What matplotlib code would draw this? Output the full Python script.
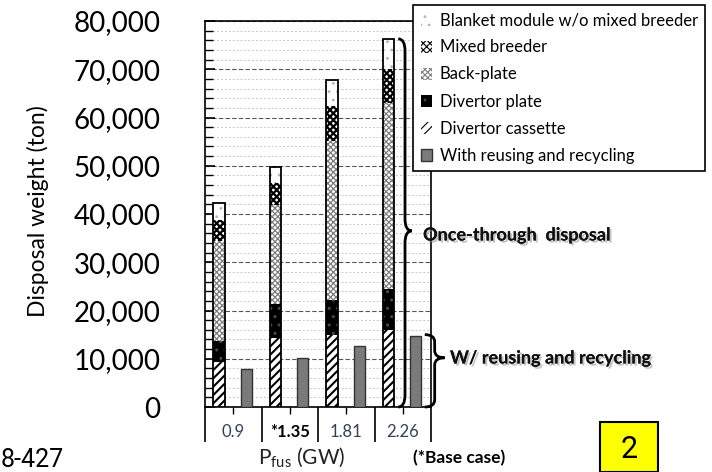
import numpy as np
import matplotlib
matplotlib.use("Agg")
import matplotlib.pyplot as plt
from matplotlib.path import Path
from matplotlib.patches import PathPatch, Rectangle
from matplotlib.ticker import MultipleLocator
from matplotlib import patheffects as pe

plt.rcParams['font.family'] = ['Lato', 'DejaVu Sans']

# data (ton)
categories = ["0.9", "*1.35", "1.81", "2.26"]
divertor_cassette = [9400, 14300, 14900, 16000]
divertor_plate = [4300, 7100, 7200, 8400]
back_plate = [20800, 20500, 33100, 38600]
mixed_breeder = [4300, 4500, 7100, 7000]
blanket = [3400, 3400, 5500, 6300]
recycled = [7900, 10200, 12700, 14700]
yticks = np.arange(0, 80001, 10000)

W, H = 712, 472
fig = plt.figure(figsize=(W / 100, H / 100), dpi=100)
ax = fig.add_axes([205 / W, 1 - 407 / H, 226 / W, 386 / H])

x = np.arange(len(categories))
xs = x + 0.25
xg = x + 0.73
bw = 0.2

# stacked bars: (values, label, face, hatch colour, hatch, hatch lw)
layers = [
    (divertor_cassette, "Divertor cassette", "white", "black", "////", 1.5),
    (divertor_plate, "Divertor plate", "black", "#4a4a4a", "..", 1.0),
    (back_plate, "Back-plate", "white", "#7c7c7c", "xxxxxx", 0.9),
    (mixed_breeder, "Mixed breeder", "white", "black", "xxxxx", 1.6),
    (blanket, "Blanket module w/o mixed breeder", "white", "#b5b5b5", "..", 0.8),
]
bottom = np.zeros(len(categories))
handles = {}
for vals, lab, face, hc, hatch, hlw in layers:
    plt.rcParams['hatch.linewidth'] = hlw
    b = ax.bar(xs, vals, bw, bottom=bottom, color=face, edgecolor=hc,
               hatch=hatch, linewidth=0, label=lab, zorder=3)
    handles[lab] = b
    bottom = bottom + np.array(vals)
totals = bottom
ax.bar(xs, totals, bw, fill=False, edgecolor="black", linewidth=1.3, zorder=4)
g = ax.bar(xg, recycled, bw, color="#7a7a7a", edgecolor="#333333",
           linewidth=1.0, zorder=3, label="With reusing and recycling")
handles["With reusing and recycling"] = g

# axes
ax.set_xlim(0, 4)
ax.set_ylim(0, 80000)
ax.set_yticks(yticks)
ax.set_yticklabels([f"{v:,}" for v in yticks])
ax.yaxis.set_minor_locator(MultipleLocator(2000))
ax.tick_params(axis="y", which="major", direction="in", length=7, width=1.2,
               labelsize=20, pad=32)
ax.tick_params(axis="y", which="minor", direction="in", length=6, width=1)
ax.yaxis.grid(True, which="major", ls=(0, (4, 2)), color="#555555", lw=0.8)
ax.yaxis.grid(True, which="minor", ls=(0, (2, 2)), color="#c8c8c8", lw=0.7)
ax.set_axisbelow(True)

ax.set_xticks(np.arange(5))
ax.set_xticklabels([])
ax.set_xticks(x + 0.5, minor=True)
ax.set_xticklabels(categories, minor=True)
ax.tick_params(axis="x", which="major", direction="out", length=25, width=1.2)
ax.tick_params(axis="x", which="minor", direction="out", length=5, width=1,
               labelsize=12, pad=7, labelcolor="#34405a")
for lbl in ax.get_xticklabels(minor=True):
    if lbl.get_text().startswith("*"):
        lbl.set_fontweight("bold")
        lbl.set_color("black")
for s in ax.spines.values():
    s.set_linewidth(1.2)

fig.text(38 / W, 1 - 211 / H, "Disposal weight (ton)", rotation=90,
         ha="center", va="center", fontsize=16.5)


# curly braces
def brace(x0, w, ybot, ytop, ytip, r):
    xm = x0 + w / 2
    verts = [(x0, ytop), (xm, ytop), (xm, ytop - r),
             (xm, ytip + r), (xm, ytip), (x0 + w, ytip),
             (xm, ytip), (xm, ytip - r),
             (xm, ybot + r), (xm, ybot), (x0, ybot)]
    codes = [Path.MOVETO, Path.CURVE3, Path.CURVE3,
             Path.LINETO, Path.CURVE3, Path.CURVE3,
             Path.CURVE3, Path.CURVE3,
             Path.LINETO, Path.CURVE3, Path.CURVE3]
    ax.add_patch(PathPatch(Path(verts, codes), fill=False, lw=2,
                           edgecolor="black", clip_on=False, zorder=5))


brace(3.42, 0.24, 0, totals[-1], 36500, 2500)
brace(3.89, 0.35, 0, recycled[-1] + 300, 10200, 1500)

shadow = [pe.withSimplePatchShadow(offset=(1.5, -1.5), shadow_rgbFace="#888888", alpha=0.5),
          pe.Normal()]
fig.text(423 / W, 1 - 235 / H, "Once-through  disposal", ha="left", va="center",
         fontsize=13, fontweight="bold", color="#111111", path_effects=shadow)
fig.text(450 / W, 1 - 358 / H, "W/ reusing and recycling", ha="left", va="center",
         fontsize=13, fontweight="bold", color="#111111", path_effects=shadow)

order = ["Blanket module w/o mixed breeder", "Mixed breeder", "Back-plate",
         "Divertor plate", "Divertor cassette", "With reusing and recycling"]
leg = fig.legend([handles[k] for k in order], order, loc="upper left",
                 bbox_to_anchor=(413 / W, 1 - 5 / H), frameon=True, fancybox=False,
                 edgecolor="black", framealpha=1, fontsize=12, handlelength=0.7,
                 handleheight=0.7, handletextpad=0.45, labelspacing=0.66,
                 borderpad=0.45, borderaxespad=0)
leg.get_frame().set_linewidth(1.2)

fig.text(302 / W, 1 - 458 / H, r"P$_{\mathregular{fus}}$ (GW)", ha="center",
         va="center", fontsize=15, color="#222222")
fig.text(413 / W, 1 - 458 / H, "(*Base case)", ha="left", va="center",
         fontsize=12.5, fontweight="bold")
fig.text(1 / W, 1 - 460 / H, "8-427", ha="left", va="center", fontsize=18,
         family="Roboto")

fig.add_artist(Rectangle((600 / W, 0), 58 / W, 50 / H, transform=fig.transFigure,
                         facecolor="yellow", edgecolor="black", lw=1.5))
fig.text(629 / W, 1 - 449 / H, "2", ha="center", va="center", fontsize=22,
         family="Roboto")

fig.savefig("out.png", dpi=100)
